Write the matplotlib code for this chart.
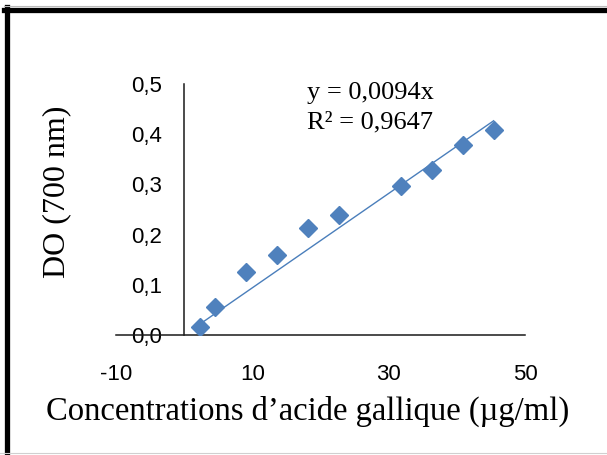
"""Calibration curve - acide gallique (DO a 700 nm)."""
import numpy as np
import matplotlib
matplotlib.use("Agg")
import matplotlib.pyplot as plt
from matplotlib.lines import Line2D

# data
conc = [2.27, 4.54, 9.08, 13.62, 18.16, 22.7, 31.78, 36.32, 40.86, 45.4]
do   = [0.015, 0.055, 0.125, 0.159, 0.214, 0.240, 0.297, 0.328, 0.379, 0.408]
slope = 0.0094
r2    = 0.9647
xticks = [-10, 10, 30, 50]
yticks = [0.0, 0.1, 0.2, 0.3, 0.4, 0.5]
ytick_labels = ["0,0", "0,1", "0,2", "0,3", "0,4", "0,5"]

W, H = 607, 455
fig = plt.figure(figsize=(W / 100, H / 100), dpi=100)
ax = fig.add_axes([116 / W, 1 - 335 / H, (525 - 116) / W, (335 - 84) / H])

blue = "#4F81BD"
ax.plot(conc, do, linestyle="none", marker="D", ms=9.5, color=blue, zorder=3)
xfit = np.array([min(conc), max(conc)])
ax.plot(xfit, slope * xfit, color="#4A7EBB", lw=1.0, zorder=2)

ax.set_xlim(-10, 50)
ax.set_ylim(0, 0.5)
ax.set_xticks(xticks)
ax.set_xticklabels([str(t) for t in xticks])
ax.set_yticks(yticks)
ax.set_yticklabels(ytick_labels)

for s in ["top", "right"]:
    ax.spines[s].set_visible(False)
ax.spines["left"].set_position(("data", 0))
ax.spines["bottom"].set_position(("data", 0))
for s in ["left", "bottom"]:
    ax.spines[s].set_linewidth(1.1)
    ax.spines[s].set_color("#1a1a1a")

ax.tick_params(axis="both", length=0)
ax.tick_params(axis="y", pad=16)
ax.tick_params(axis="x", pad=21)
for lab in ax.get_xticklabels() + ax.get_yticklabels():
    lab.set_fontfamily("Liberation Sans")
    lab.set_fontsize(16)

serif = "Liberation Serif"
ax.text(0.466, 0.964, f"y = {slope:.4f}x".replace(".", ","),
        transform=ax.transAxes, family=serif, fontsize=19, va="center", ha="left")
ax.text(0.466, 0.845, f"R² = {r2:.4f}".replace(".", ","),
        transform=ax.transAxes, family=serif, fontsize=19, va="center", ha="left")

fig.text(57 / W, 1 - 192 / H, "DO (700 nm)", family=serif, fontsize=23,
         rotation=90, ha="center", va="center")
fig.text(308 / W, 1 - 411 / H, "Concentrations d\u2019acide gallique (\u00b5g/ml)",
         family=serif, fontsize=23.5, ha="center", va="center")

# chart frame
fig.add_artist(Line2D([6.5 / W, 6.5 / W], [0, 1 - 7 / H], color="black",
                      lw=3.8, transform=fig.transFigure))
fig.add_artist(Line2D([4 / W, 1], [1 - 9.5 / H, 1 - 9.5 / H], color="black",
                      lw=3.8, transform=fig.transFigure))
fig.add_artist(Line2D([4 / W, 1], [1 - 6 / H, 1 - 6 / H], color="#bbbbbb",
                      lw=0.8, transform=fig.transFigure))
fig.add_artist(Line2D([0, 1], [1 - 452.5 / H, 1 - 452.5 / H], color="#d0d0d0",
                      lw=0.8, transform=fig.transFigure))

plt.savefig("out.png", dpi=100)
plt.close()
